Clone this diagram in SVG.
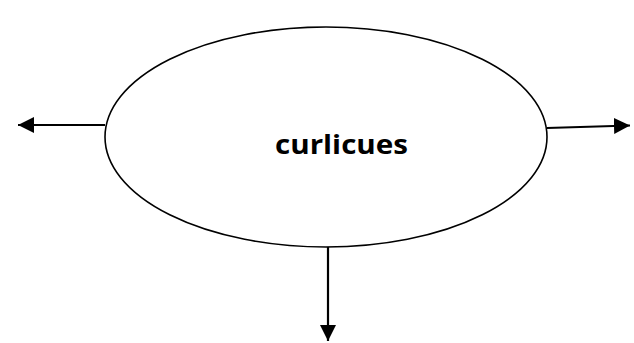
<svg xmlns="http://www.w3.org/2000/svg" width="634" height="343" viewBox="0 0 634 343">
<style>
.shape{fill:#fff;stroke:#000;stroke-width:1.6}
.conn{stroke:#000;stroke-width:2.2;fill:none}
.lbl{font-family:"Open Sans","Liberation Sans",sans-serif;font-weight:bold;font-size:27px;fill:#000}
</style>
<defs>
<marker id="ah" viewBox="0 0 10 10" refX="10" refY="5" markerWidth="16" markerHeight="16" markerUnits="userSpaceOnUse" orient="auto">
<path d="M0,0 L10,5 L0,10 z" fill="#000"/>
</marker>
</defs>
<rect width="634" height="343" fill="#fff"/>
<g id="node-curlicues">
<ellipse class="shape" cx="326" cy="137" rx="221" ry="110"/>
<text class="lbl" x="275" y="154" textLength="133" lengthAdjust="spacingAndGlyphs">curlicues</text>
</g>
<g id="connectors">
<line class="conn" x1="105" y1="125" x2="18" y2="125" marker-end="url(#ah)"/>
<line class="conn" x1="547" y1="128" x2="630" y2="125.5" marker-end="url(#ah)"/>
<line class="conn" x1="328" y1="247" x2="328" y2="341" marker-end="url(#ah)"/>
</g>
</svg>
